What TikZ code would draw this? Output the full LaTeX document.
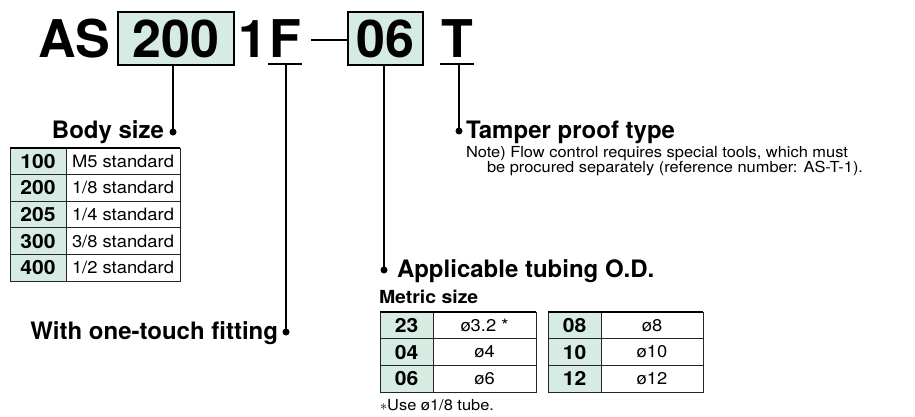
\documentclass[tikz,border=0pt]{standalone}
\usepackage{fontspec}
\setmainfont{TeX Gyre Heros}
\newfontfamily\widefont{TeX Gyre Heros}[FakeStretch=1.08]
\usetikzlibrary{positioning}
\definecolor{mint}{RGB}{214,235,226}

\begin{document}
\begin{tikzpicture}[x=1pt,y=-1pt,inner sep=0pt,outer sep=0pt,
  code/.style={font=\fontsize{52}{52}\selectfont\bfseries,anchor=base west},
  codebox/.style={draw,line width=1.5pt,fill=mint,minimum height=53pt,font=\fontsize{52}{52}\selectfont\bfseries},
  head/.style={font=\fontsize{24}{24}\selectfont\bfseries},
  dot/.style={circle,fill,minimum size=7pt},
  lead/.style={line width=1.5pt},
  keycell/.style={draw=black!85,line width=0.9pt,fill=mint,minimum height=26.6pt,font=\widefont\fontsize{19.5}{19.5}\selectfont\bfseries},
  valcell/.style={draw=black!85,line width=0.9pt,minimum height=26.6pt,font=\widefont\fontsize{17}{17}\selectfont},
  bodykey/.style={keycell,minimum width=56pt},
  bodyval/.style={valcell,minimum width=114pt},
  tubekey/.style={keycell,minimum width=53pt,minimum height=26.7pt},
  tubeval/.style={valcell,minimum width=103pt,minimum height=26.7pt},
  note/.style={font=\widefont\fontsize{15.2}{15}\selectfont,anchor=base west}]
  \useasboundingbox (0,0) rectangle (915,416);

  \node[code] (as) at (38,57) {AS};
  \node[codebox,minimum width=116pt] (b200) at (176,38.5) {200};
  \node[code] (one) at (238,57) {1};
  \node[code,inner xsep=1pt] (fF) at (268,57) {F};
  \node[codebox,minimum width=75pt] (b06) at (385.5,38.5) {06};
  \node[code,inner xsep=1pt] (tT) at (440,57) {T};
  \draw[lead] ([xshift=-37pt,yshift=-1.5pt]b06.west) -- ([yshift=-1.5pt]b06.west);
  \draw[lead] ([yshift=-7pt]fF.base west) -- ([yshift=-7pt]fF.base east);
  \draw[lead] ([yshift=-7pt]tT.base west) -- ([yshift=-7pt]tT.base east);
  \coordinate (fline) at ([yshift=-7pt]fF.base);
  \coordinate (tline) at ([yshift=-7pt]tT.base);

  \node[dot] (bodydot) at (173,132) {};
  \node[dot] (fitdot) at (286,332) {};
  \node[dot] (tubedot) at (384,270) {};
  \node[dot] (tamperdot) at (459,131) {};
  \draw[lead] (bodydot |- b200.south) -- (bodydot);
  \draw[lead] (fitdot |- fline) -- (fitdot);
  \draw[lead] (tubedot |- b06.south) -- (tubedot);
  \draw[lead] (tamperdot |- tline) -- (tamperdot);

  \node[head,anchor=base east] (bodylbl) at ([xshift=-9pt,yshift=-6pt]bodydot) {Body size};
  \node[head,anchor=base east] (fitlbl) at ([xshift=-8pt,yshift=-7pt]fitdot) {With one-touch fitting};
  \node[head,anchor=base west] (tamperlbl) at ([xshift=7pt,yshift=-7pt]tamperdot) {Tamper proof type};
  \node[head,anchor=base west] (tubelbl) at ([xshift=13pt,yshift=-7pt]tubedot) {Applicable tubing O.D.};
  \node[note] (note1) at ([yshift=-19pt]tamperlbl.base west) {Note) Flow control requires special tools, which must};
  \node[note] (note2) at ([xshift=21pt,yshift=-15pt]note1.base west) {be procured separately (reference number: AS-T-1).};
  \node[font=\widefont\fontsize{18}{18}\selectfont\bfseries,anchor=base west] (metric) at ([xshift=-18pt,yshift=-26pt]tubelbl.base west) {Metric size};

  \node[bodykey,anchor=north west] (k100) at (10,148) {100};
  \node[bodyval,right=0pt of k100] (v100) {M5 standard};
  \node[bodykey,below=0pt of k100] (k200) {200};
  \node[bodyval,right=0pt of k200] (v200) {1/8 standard};
  \node[bodykey,below=0pt of k200] (k205) {205};
  \node[bodyval,right=0pt of k205] (v205) {1/4 standard};
  \node[bodykey,below=0pt of k205] (k300) {300};
  \node[bodyval,right=0pt of k300] (v300) {3/8 standard};
  \node[bodykey,below=0pt of k300] (k400) {400};
  \node[bodyval,right=0pt of k400] (v400) {1/2 standard};
  \draw[line width=2pt] (k100.north west) -- (v100.north east);

  \node[tubekey,anchor=north west] (t23) at (380,312) {23};
  \node[tubeval,right=0pt of t23] (d23) {ø3.2 *};
  \node[tubekey,below=0pt of t23] (t04) {04};
  \node[tubeval,right=0pt of t04] (d04) {ø4};
  \node[tubekey,below=0pt of t04] (t06) {06};
  \node[tubeval,right=0pt of t06] (d06) {ø6};
  \draw[line width=2pt] (t23.north west) -- (d23.north east);

  \node[tubekey,anchor=north west] (t08) at (548,312) {08};
  \node[tubeval,minimum width=102pt,right=0pt of t08] (d08) {ø8};
  \node[tubekey,below=0pt of t08] (t10) {10};
  \node[tubeval,minimum width=102pt,right=0pt of t10] (d10) {ø10};
  \node[tubekey,below=0pt of t10] (t12) {12};
  \node[tubeval,minimum width=102pt,right=0pt of t12] (d12) {ø12};
  \draw[line width=2pt] (t08.north west) -- (d08.north east);

  \node[note] (foot) at ([yshift=-18pt]t06.south west) {$\ast$Use ø1/8 tube.};
\end{tikzpicture}
\end{document}
